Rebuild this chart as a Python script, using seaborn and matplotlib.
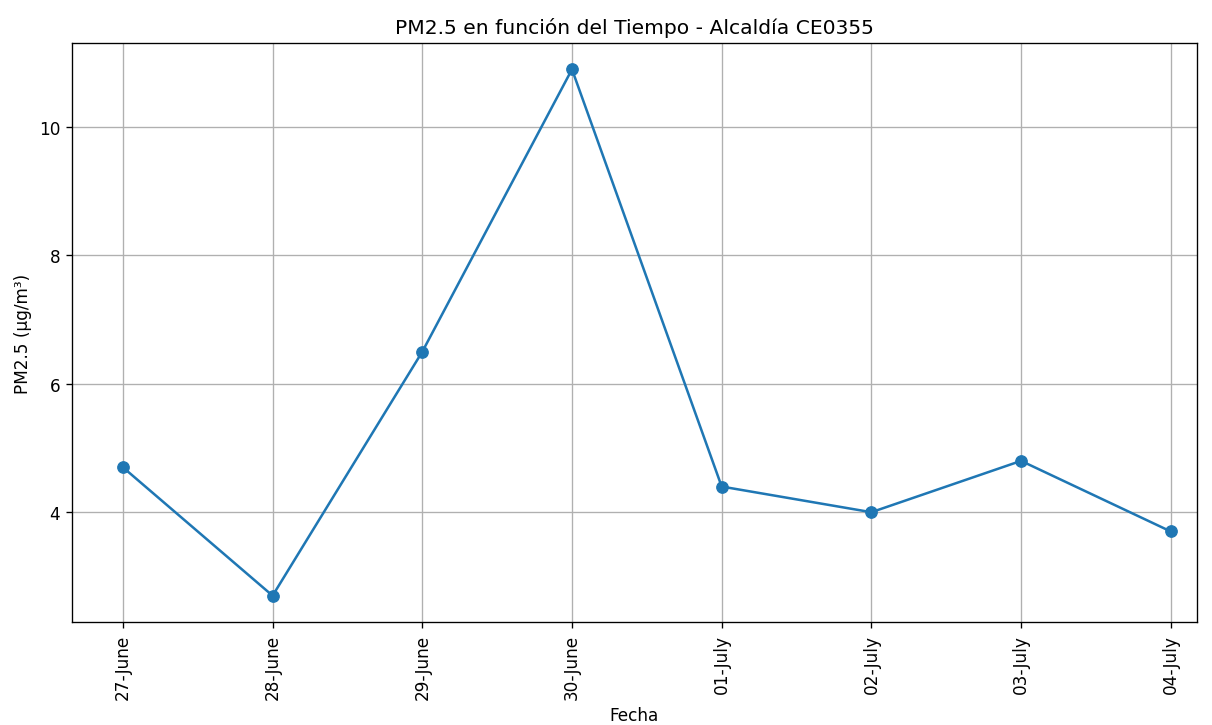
import pandas as pd
import matplotlib
matplotlib.use("Agg")
import matplotlib.pyplot as plt
import seaborn as sns

# daily PM2.5 averages
fechas = ["27-June", "28-June", "29-June", "30-June", "01-July", "02-July", "03-July", "04-July"]
pm25 = [4.7, 2.7, 6.5, 10.9, 4.4, 4.0, 4.8, 3.7]

data_df = pd.DataFrame({"Fecha": fechas, "PM2.5": pm25})

fig, ax = plt.subplots(figsize=(10, 5.99), dpi=121.2)
sns.lineplot(data=data_df, x="Fecha", y="PM2.5", marker="o", sort=False,
             color="#1f77b4", markeredgecolor="#1f77b4", markersize=6.8,
             linewidth=1.5, ax=ax)

ax.set_title("PM2.5 en función del Tiempo - Alcaldía CE0355")
ax.set_xlabel("Fecha")
ax.set_ylabel("PM2.5 (µg/m³)")
ax.set_yticks([4, 6, 8, 10])
ax.tick_params(axis="x", rotation=90)
ax.grid(True)
# the original axis is not symmetric: less room after the last day
ax.set_xlim(-0.34, len(fechas) - 1 + 0.175)
ax.margins(y=0.05)

plt.subplots_adjust(left=0.0594, right=0.9876, top=0.9394, bottom=0.1419)
plt.savefig("out.png", dpi=121.2)
